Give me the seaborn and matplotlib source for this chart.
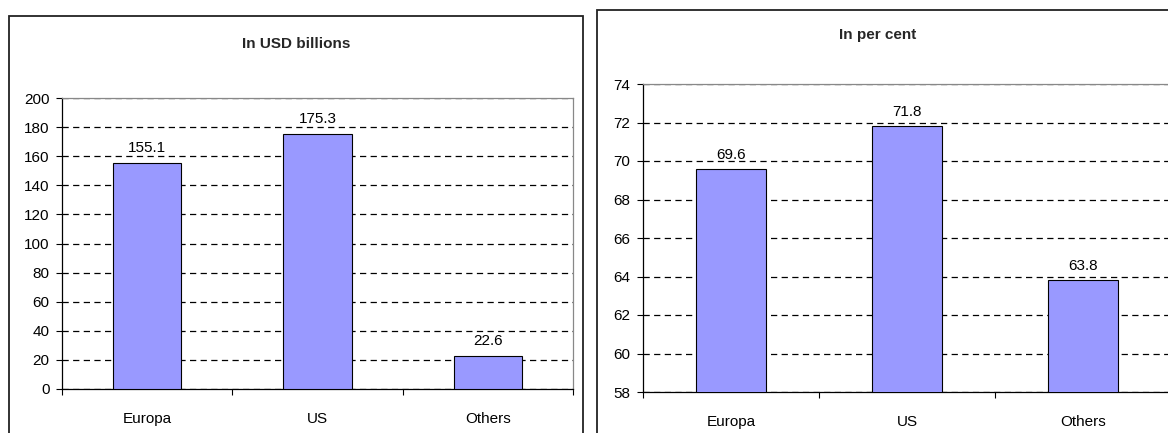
import matplotlib
matplotlib.use("Agg")
import matplotlib.pyplot as plt
from matplotlib.patches import Rectangle
from matplotlib.ticker import FixedLocator, MultipleLocator
import seaborn as sns
import pandas as pd

# chart values
regions = ["Europa", "US", "Others"]
usd_billions = [155.1, 175.3, 22.6]
per_cent = [69.6, 71.8, 63.8]
titles = ["In USD billions", "In per cent"]

sns.set_theme(style="white")
plt.rcParams["font.family"] = ["Liberation Sans", "DejaVu Sans"]

W, H = 1168, 433
fig = plt.figure(figsize=(W / 100, H / 100), dpi=100)


def px_axes(x0, y0, x1, y1):
    # pixel box (top-left origin) -> figure fraction axes
    return fig.add_axes([x0 / W, (H - y1) / H, (x1 - x0) / W, (y1 - y0) / H])


# panel borders
fig.patches.append(Rectangle((9 / W, -0.05), (583 - 9) / W, (H - 16) / H + 0.05,
                             transform=fig.transFigure, fill=False, edgecolor="#222222",
                             linewidth=1.3))
fig.patches.append(Rectangle((597 / W, -0.05), 1.0, (H - 10) / H + 0.05,
                             transform=fig.transFigure, fill=False, edgecolor="#222222",
                             linewidth=1.3))

ax1 = px_axes(62, 98, 573, 389)
ax2 = px_axes(643, 84, 1171, 392)


def draw(ax, values, ylim, step, lab_pad):
    df = pd.DataFrame({"region": regions, "value": values})
    sns.barplot(data=df, x="region", y="value", ax=ax, color="#9999FF", saturation=1,
                width=0.4, edgecolor="black", linewidth=0.8, zorder=3)
    ax.bar_label(ax.containers[0], fmt="%.1f", padding=lab_pad, fontsize=11, color="black")
    ax.set_ylim(*ylim)
    ax.set_xlim(-0.5, len(regions) - 0.5)
    ax.yaxis.set_major_locator(MultipleLocator(step))
    ax.xaxis.set_minor_locator(FixedLocator([i - 0.5 for i in range(len(regions) + 1)]))
    ax.set_xlabel("")
    ax.set_ylabel("")
    ax.yaxis.grid(True, color="black", linestyle=(0, (5, 3.5)), linewidth=0.9, zorder=0)
    ax.set_axisbelow(True)
    ax.tick_params(axis="x", which="major", length=0, pad=16.5, labelsize=11, colors="black")
    ax.tick_params(axis="x", which="minor", bottom=True, length=4, width=0.8, color="black")
    ax.tick_params(axis="y", left=True, length=4, width=0.8, color="black", pad=5,
                   labelsize=11, labelcolor="black")
    for s in ["left", "bottom"]:
        ax.spines[s].set_color("black")
        ax.spines[s].set_linewidth(0.9)
    for s in ["top", "right"]:
        ax.spines[s].set_color("#888888")
        ax.spines[s].set_linewidth(0.9)
    ax.set_facecolor("white")


draw(ax1, usd_billions, (0, 200), 20, 6)
draw(ax2, per_cent, (58, 74), 2, 5)

fig.text(296 / W, 1 - 44 / H, titles[0], ha="center", va="center", fontsize=11,
         fontweight="bold")
fig.text(878 / W, 1 - 35 / H, titles[1], ha="center", va="center", fontsize=11,
         fontweight="bold")

fig.savefig("out.png", dpi=100, facecolor="white")
